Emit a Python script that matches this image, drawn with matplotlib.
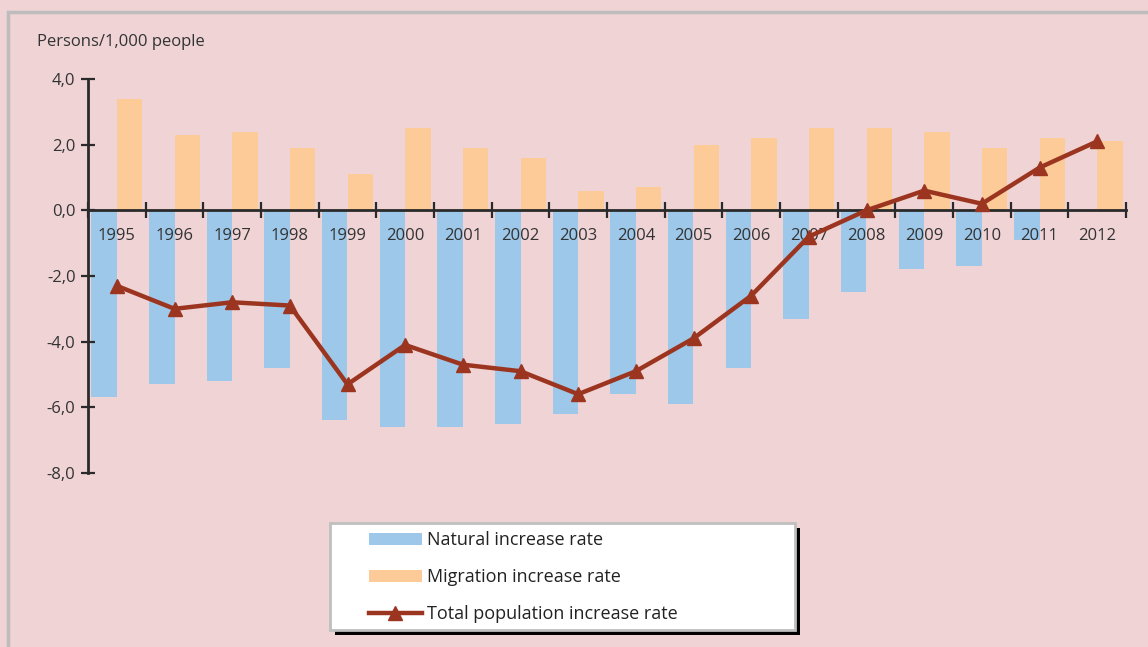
import numpy as np
import matplotlib.pyplot as plt
from matplotlib.patches import Rectangle
from matplotlib.ticker import FuncFormatter

plt.rcParams['font.family'] = ['Open Sans', 'DejaVu Sans']

# data
years = [str(y) for y in range(1995, 2013)]
natural = [-5.7, -5.3, -5.2, -4.8, -6.4, -6.6, -6.6, -6.5, -6.2, -5.6,
           -5.9, -4.8, -3.3, -2.5, -1.8, -1.7, -0.9, 0.0]
migration = [3.4, 2.3, 2.4, 1.9, 1.1, 2.5, 1.9, 1.6, 0.6, 0.7,
             2.0, 2.2, 2.5, 2.5, 2.4, 1.9, 2.2, 2.1]
total = [-2.3, -3.0, -2.8, -2.9, -5.3, -4.1, -4.7, -4.9, -5.6, -4.9,
         -3.9, -2.6, -0.8, 0.0, 0.6, 0.2, 1.3, 2.1]
y_ticks = [-8, -6, -4, -2, 0, 2, 4]

bg = '#EFD3D5'
c_nat = '#9DC8EA'
c_mig = '#FCCB98'
c_tot = '#9C3520'
ink = '#2A2A2A'

W, H = 1148, 647
fig = plt.figure(figsize=(W / 100, H / 100), dpi=100, facecolor=bg)

# outer grey frame
fig.patches.append(Rectangle((8 / W, -0.05), 1.1, 1 - 12 / H + 0.05, transform=fig.transFigure,
                             fill=False, edgecolor='#BDBDBD', linewidth=2.5))

ax = fig.add_axes([88 / W, 1 - 473 / H, (1126 - 88) / W, (473 - 79) / H])
ax.set_facecolor('none')

x = np.arange(len(years)) + 0.5
bw = 0.44
b1 = ax.bar(x - 0.22, natural, width=bw, color=c_nat, label='Natural increase rate', zorder=1)
b2 = ax.bar(x + 0.22, migration, width=bw, color=c_mig, label='Migration increase rate', zorder=1)
l1, = ax.plot(x, total, color=c_tot, lw=3.2, marker='^', markersize=10,
              label='Total population increase rate', zorder=4)

ax.set_xlim(0, len(years))
ax.set_ylim(-8, 4)

for s in ['top', 'right']:
    ax.spines[s].set_visible(False)
ax.spines['bottom'].set_position(('data', 0))
ax.spines['left'].set_bounds(-8, 4)
for s in ['left', 'bottom']:
    ax.spines[s].set_linewidth(2)
    ax.spines[s].set_color(ink)
    ax.spines[s].set_zorder(3)

ax.set_yticks(y_ticks)
ax.yaxis.set_major_formatter(FuncFormatter(lambda v, p: f'{v:.1f}'.replace('.', ',')))
ax.tick_params(axis='y', direction='inout', length=10, width=1.6, color=ink,
               labelsize=12, labelcolor='#333333', pad=4)

ax.set_xticks(x)
ax.set_xticklabels(years)
ax.set_xticks(np.arange(len(years) + 1), minor=True)
ax.tick_params(axis='x', which='major', length=0, pad=13, labelsize=12, labelcolor='#333333')
ax.tick_params(axis='x', which='minor', direction='inout', length=11, width=1.6, color=ink)

fig.text(37 / W, 1 - 42 / H, 'Persons/1,000 people', fontsize=12, color='#333333',
         va='center', ha='left')

# legend box with hard shadow
lx0, ly0, lx1, ly1 = 330, 523, 795, 630
fig.patches.append(Rectangle(((lx0 + 5) / W, 1 - (ly1 + 5) / H), (lx1 - lx0) / W, (ly1 - ly0) / H,
                             transform=fig.transFigure, facecolor='black', edgecolor='none'))
fig.patches.append(Rectangle((lx0 / W, 1 - ly1 / H), (lx1 - lx0) / W, (ly1 - ly0) / H,
                             transform=fig.transFigure, facecolor='white', edgecolor='#BFBFBF',
                             linewidth=2))
leg = fig.legend([b1, b2, l1], [b1.get_label(), b2.get_label(), l1.get_label()],
                 loc='upper left', bbox_to_anchor=(362 / W, 1 - 524 / H), frameon=False,
                 fontsize=13, handlelength=2.9, handletextpad=0.3, labelspacing=1.05,
                 borderaxespad=0)
for t in leg.get_texts():
    t.set_color('#222222')

fig.savefig('out.png', dpi=100, facecolor=bg)
